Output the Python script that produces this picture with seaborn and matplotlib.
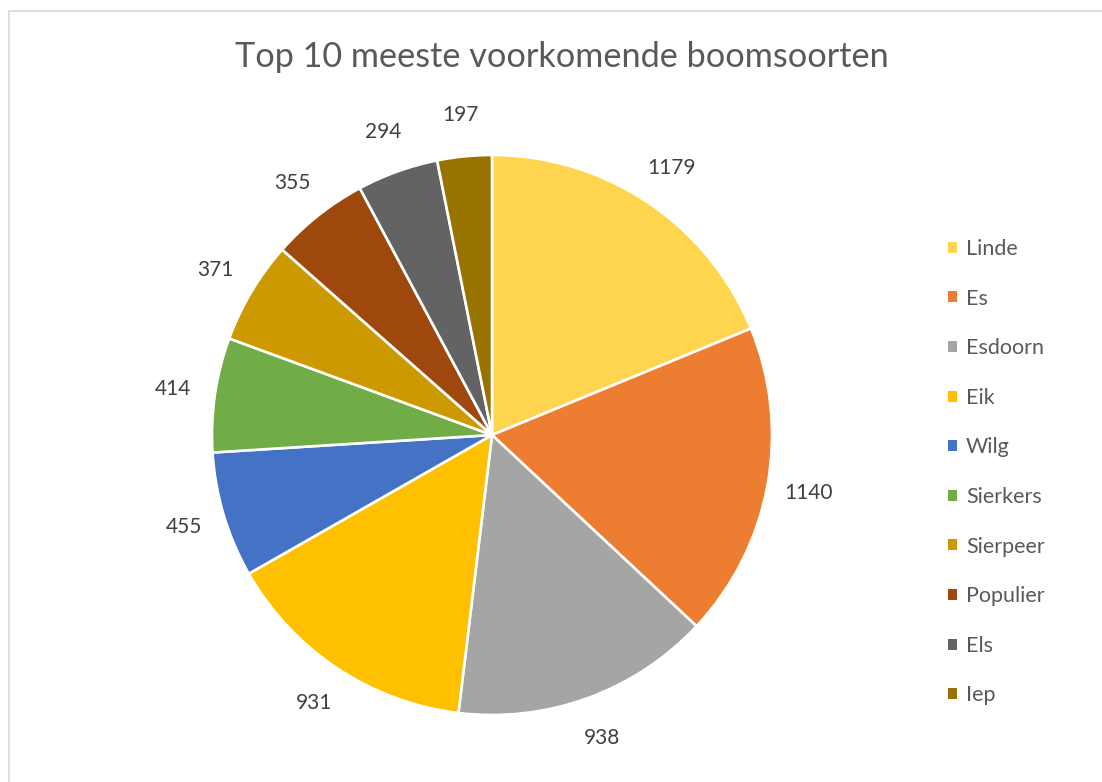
import matplotlib
matplotlib.use("Agg")
import matplotlib.pyplot as plt
from matplotlib.patches import Patch, Rectangle
import seaborn as sns

categories = ["Linde", "Es", "Esdoorn", "Eik", "Wilg", "Sierkers", "Sierpeer", "Populier", "Els", "Iep"]
values = [1179, 1140, 938, 931, 455, 414, 371, 355, 294, 197]
colors = ["#FFD54F", "#ED7D31", "#A5A5A5", "#FFC000", "#4472C4",
          "#70AD47", "#CC9A00", "#9E480E", "#636363", "#997300"]
title = "Top 10 meeste voorkomende boomsoorten"

sns.set_theme(style="white")
plt.rcParams["font.family"] = ["Lato", "DejaVu Sans"]

W, H = 1102, 782
fig = plt.figure(figsize=(W / 100, H / 100), dpi=100)
fig.patch.set_facecolor("white")

# chart border
fig.patches.append(Rectangle((9 / W, -0.05), 1.2, (H - 11) / H + 0.05,
                             transform=fig.transFigure, fill=False,
                             edgecolor="#D9D9D9", linewidth=1.2))

cx, cy, r = 492, 435, 280
ax = fig.add_axes([(cx - r) / W, (H - cy - r) / H, 2 * r / W, 2 * r / H])
total = sum(values)
wedges, texts, autotexts = ax.pie(
    values, colors=colors, startangle=90, counterclock=False,
    wedgeprops=dict(edgecolor="white", linewidth=1.9),
    autopct=lambda p: f"{round(p * total / 100)}", pctdistance=1.15,
    textprops=dict(fontsize=15, color="#404040"))
ax.set_xlim(-1, 1)
ax.set_ylim(-1, 1)
ax.set_aspect("equal")
ax.axis("off")

fig.text(562 / W, 1 - 57 / H, title, ha="center", va="center",
         fontsize=24.7, color="#595959")

handles = [Patch(facecolor=c, edgecolor="none") for c in colors]
fig.legend(handles, categories, loc="upper left",
           bbox_to_anchor=(948 / W, 1 - 239 / H), frameon=False,
           borderpad=0, borderaxespad=0,
           fontsize=15.5, labelcolor="#595959", handlelength=0.42,
           handleheight=0.42, handletextpad=0.42, labelspacing=1.375)

fig.savefig("out.png", dpi=100)
